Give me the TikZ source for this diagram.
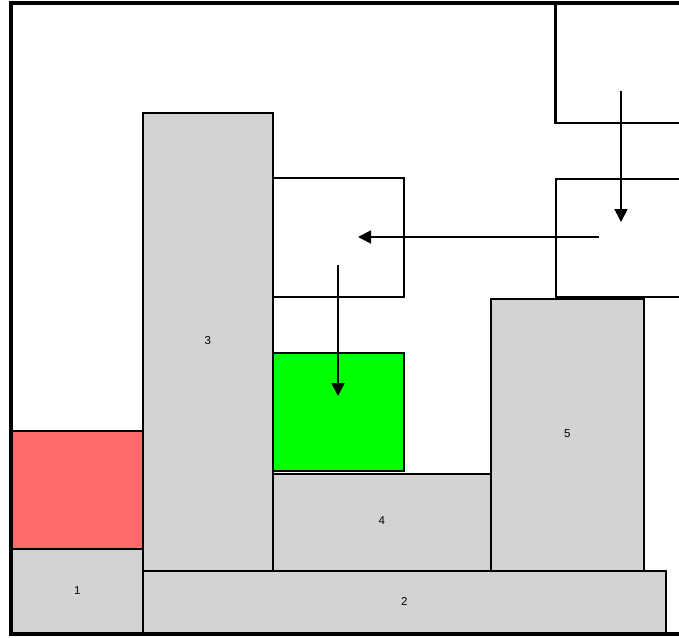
\documentclass[tikz,border=0pt]{standalone}
\usepackage{fontspec}
\setmainfont{Liberation Sans}
\usetikzlibrary{arrows.meta}
\definecolor{boxgray}{RGB}{211,211,211}
\definecolor{boxred}{RGB}{255,106,106}
\definecolor{boxgreen}{RGB}{0,255,0}
% block numbers sit slightly above the block centre
\newcommand{\blocknum}[1]{\raisebox{3.3pt}{#1}}
\tikzset{
  box/.style={draw=black, line width=1.6pt, inner sep=0pt, anchor=north west,
              font=\fontsize{11.5}{13}\selectfont},
  blk/.style={box, fill=boxgray},
  slot/.style={box, fill=white},
  frame/.style={draw=black, line width=3.6pt},
  mover/.style={draw=black, line width=1.8pt, -{Triangle[length=13pt,width=13pt]}},
}
\begin{document}
\begin{tikzpicture}[x=1pt, y=-1pt]
  \useasboundingbox (0,0) rectangle (679,637);
  \clip (0,0) rectangle (679,637);
  \fill[white] (0,0) rectangle (679,637);

  % empty slots on the right and in the middle
  \node[slot, minimum width=160pt, minimum height=119pt] (t1) at (555,3) {};
  \node[slot, minimum width=160pt, minimum height=118pt] (t2) at (555,178) {};
  \node[slot, minimum width=131pt, minimum height=119pt] (m) at (272,177) {};

  % stacked blocks
  \node[blk, minimum width=130pt, minimum height=458pt] (b3) at (142,112) {\blocknum{3}};
  \node[blk, minimum width=218pt, minimum height=97pt] (b4) at (272,473) {\blocknum{4}};
  \node[blk, minimum width=153pt, minimum height=272pt] (b5) at (490,298) {\blocknum{5}};
  \node[blk, minimum width=523pt, minimum height=64pt] (b2) at (142,570) {\blocknum{2}};
  \node[blk, minimum width=131pt, minimum height=86pt] (b1) at (11,548) {\blocknum{1}};
  \node[box, fill=boxred, minimum width=131pt, minimum height=118pt] (r) at (11,430) {};
  \node[box, fill=boxgreen, minimum width=131pt, minimum height=118pt] (g) at (272,352) {};

  % container outline
  \draw[frame] (11,3) rectangle (720,634);
  \draw[box] (t1.north west) -- (t1.south west) -- (t1.south east);

  % moves
  \coordinate (p1) at (621,91);
  \coordinate (q1) at (621,222);
  \coordinate (p2) at (599,237);
  \coordinate (q2) at (358,237);
  \coordinate (p3) at (338,265);
  \coordinate (q3) at (338,396);
  \draw[mover] (p1) -- (q1);
  \draw[mover] (p2) -- (q2);
  \draw[mover] (p3) -- (q3);
\end{tikzpicture}
\end{document}
